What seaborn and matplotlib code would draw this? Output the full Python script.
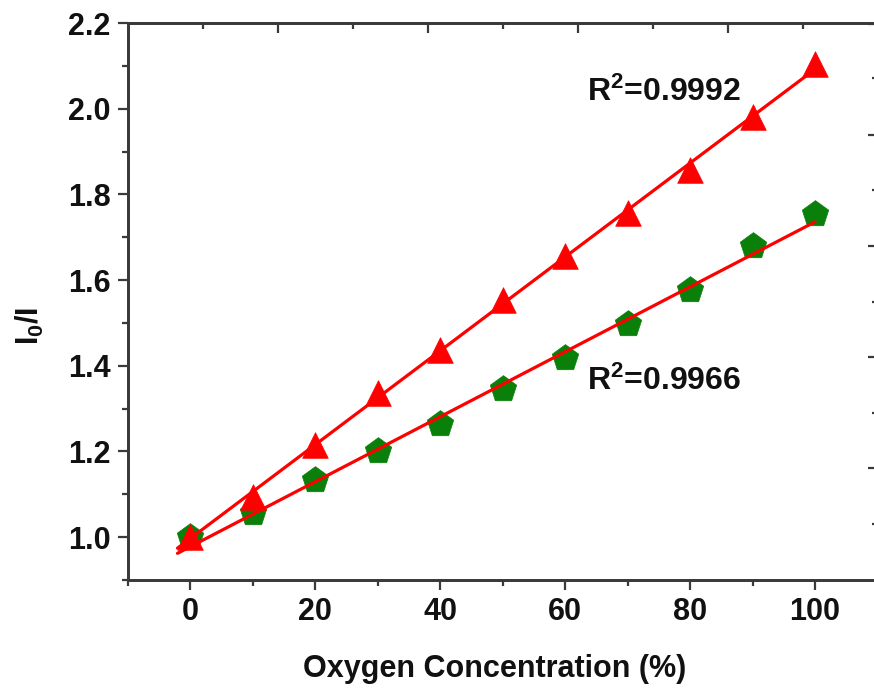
import numpy as np
import pandas as pd
import matplotlib
matplotlib.use("Agg")
import matplotlib.pyplot as plt
import seaborn as sns
from matplotlib.ticker import MultipleLocator, NullFormatter, FixedLocator

# ---- data ----
oxygen = [0, 10, 20, 30, 40, 50, 60, 70, 80, 90, 100]
ratio_red = [1.0, 1.093, 1.215, 1.336, 1.436, 1.553, 1.656, 1.756, 1.857, 1.98, 2.104]
ratio_green = [1.0, 1.056, 1.133, 1.2, 1.264, 1.345, 1.418, 1.497, 1.576, 1.68, 1.754]
r2_labels = [r'R$^{2}$=0.9992', r'R$^{2}$=0.9966']
fit_range = [-2, 100]

sns.set_theme(style="ticks")
plt.rcParams['font.family'] = ['Liberation Sans', 'DejaVu Sans']
plt.rcParams['font.weight'] = 'bold'
plt.rcParams['mathtext.fontset'] = 'custom'
plt.rcParams['mathtext.rm'] = 'Liberation Sans:bold'
plt.rcParams['mathtext.bf'] = 'Liberation Sans:bold'
plt.rcParams['mathtext.it'] = 'Liberation Sans:bold'
plt.rcParams['mathtext.default'] = 'bf'

spine_c = '#3a3a3a'
txt_c = '#111111'
red = '#ff0000'
green = '#0a800a'

fig = plt.figure(figsize=(8.74, 6.93), dpi=100)
L, R = 127.5 / 874, 877.5 / 874
B, T = 1 - 580 / 693, 1 - 23 / 693
ax = fig.add_axes([L, B, R - L, T - B])

df = pd.DataFrame({'x': oxygen, 'red': ratio_red, 'green': ratio_green})

# linear fit lines
fx = np.array(fit_range, dtype=float)
for col in ['red', 'green']:
    k, b = np.polyfit(oxygen, df[col], 1)
    fdf = pd.DataFrame({'x': fx, 'y': k * fx + b})
    sns.lineplot(data=fdf, x='x', y='y', ax=ax, color=red, linewidth=2.3, zorder=3)

sns.scatterplot(data=df, x='x', y='green', ax=ax, marker='p', s=400, color=green,
                edgecolor=green, linewidth=0.5, zorder=2)
sns.scatterplot(data=df, x='x', y='red', ax=ax, marker='^', s=340, color=red,
                edgecolor=red, linewidth=0.5, zorder=4)

ax.text(63.5, 2.037, r2_labels[0], fontsize=23, fontweight='bold', ha='left', va='center', color=txt_c)
ax.text(63.5, 1.364, r2_labels[1], fontsize=23, fontweight='bold', ha='left', va='center', color=txt_c)

ax.set_xlim(-10, 110)
ax.set_ylim(0.9, 2.2)
ax.set_xticks([0, 20, 40, 60, 80, 100])
ax.xaxis.set_minor_locator(MultipleLocator(10))
ax.set_yticks([1.0, 1.2, 1.4, 1.6, 1.8, 2.0, 2.2])
ax.set_yticklabels(['1.0', '1.2', '1.4', '1.6', '1.8', '2.0', '2.2'])
ax.yaxis.set_minor_locator(MultipleLocator(0.1))

ax.tick_params(axis='both', which='major', direction='out', length=7, width=1.6,
               color=spine_c, labelsize=22, pad=5)
ax.tick_params(axis='both', which='minor', direction='out', length=4, width=1.6, color=spine_c)
for lab in ax.get_xticklabels() + ax.get_yticklabels():
    lab.set_fontweight('bold')
    lab.set_color(txt_c)

ax.set_xlabel('Oxygen Concentration (%)', fontsize=22, fontweight='bold', color=txt_c)
ax.set_ylabel(r'$\mathbf{I_0/I}$', fontsize=22, color=txt_c)
ax.xaxis.set_label_coords(0.49, -0.132)
ax.yaxis.set_label_coords(-0.108, 0.456)

for s in ax.spines.values():
    s.set_color(spine_c)
    s.set_linewidth(1.8)
    s.set_visible(True)

# mirrored top axis ticks (inward)
axt = ax.twiny()
axt.set_xlim(0, 750)
axt.set_xticks([150.5, 300.5, 450.5, 600.5, 750])
axt.xaxis.set_minor_locator(FixedLocator([75.5, 225.5, 375.5, 525.5, 675.5]))
axt.tick_params(axis='x', which='major', direction='in', length=7, width=1.6, color=spine_c,
                labeltop=False)
axt.tick_params(axis='x', which='minor', direction='in', length=4, width=1.6, color=spine_c)
axt.xaxis.set_major_formatter(NullFormatter())
axt.grid(False)

# mirrored right axis ticks (inward)
axr = ax.twinx()
axr.set_ylim(0, 557)
axr.set_yticks([112, 223, 334, 445, 556])
axr.yaxis.set_minor_locator(FixedLocator([56, 167, 278, 390, 502]))
axr.tick_params(axis='y', which='major', direction='in', length=7, width=1.6, color=spine_c,
                labelright=False)
axr.tick_params(axis='y', which='minor', direction='in', length=4, width=1.6, color=spine_c)
axr.yaxis.set_major_formatter(NullFormatter())
axr.grid(False)
for a in (axt, axr):
    for s in a.spines.values():
        s.set_color(spine_c)
        s.set_linewidth(1.8)

fig.savefig('out.png', dpi=100)
